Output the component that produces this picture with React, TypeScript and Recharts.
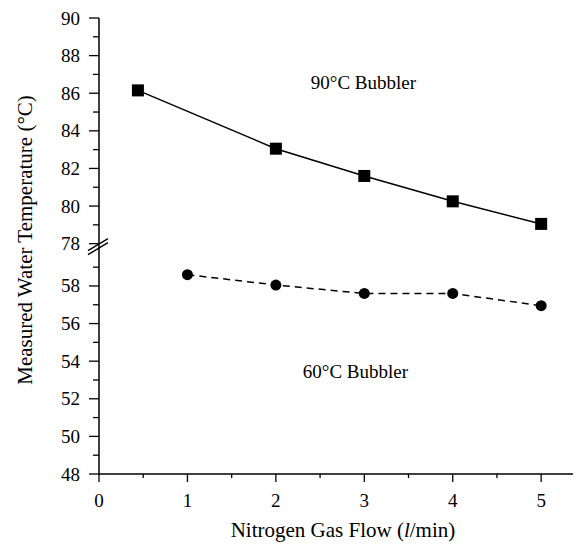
import { LineChart, Line, XAxis, YAxis, ReferenceDot, Label } from "recharts";

// measured values
const flow90 = [0.44, 2, 3, 4, 5];
const temp90 = [86.15, 83.05, 81.6, 80.25, 79.05];
const flow60 = [1, 2, 3, 4, 5];
const temp60 = [58.6, 58.05, 57.6, 57.6, 56.95];

// tick labels (lower + upper half of the broken axis)
const lowerTicks = [48, 49, 50, 51, 52, 53, 54, 55, 56, 57, 58, 59];
const upperTicks = [78, 79, 80, 81, 82, 83, 84, 85, 86, 87, 88, 89, 90];
const xTicks = [0, 0.5, 1, 1.5, 2, 2.5, 3, 3.5, 4, 4.5, 5];

// axis break: 58..78 collapsed to a small gap
const BREAK_FROM = 78;
const SHIFT = 17.75;
const toAxis = (v: number) => (v >= BREAK_FROM ? v - SHIFT : v);
const fromAxis = (t: number) => (t >= BREAK_FROM - SHIFT ? t + SHIFT : t);

const data90 = flow90.map((x, i) => ({ x, y: toAxis(temp90[i]) }));
const data60 = flow60.map((x, i) => ({ x, y: toAxis(temp60[i]) }));
const yTicks = [...lowerTicks, ...upperTicks].map(toAxis);

const FONT = "'Liberation Serif', 'Times New Roman', serif";

const YTick = (props: any) => {
  const { x, y, payload } = props;
  const real = Math.round(fromAxis(payload.value) * 100) / 100;
  const major = real % 2 === 0;
  const len = major ? 10 : 6;
  return (
    <g>
      <line x1={x - len} y1={y} x2={x} y2={y} stroke="#000" strokeWidth={1.3} />
      {major && (
        <text x={x - 19} y={y} textAnchor="end" dominantBaseline="central" fontSize={19} fontFamily={FONT} fill="#000">
          {real}
        </text>
      )}
      {real === BREAK_FROM && (
        <g stroke="#000" strokeWidth={1.4}>
          <line x1={x - 11} y1={y + 7} x2={x + 9} y2={y - 5} />
          <line x1={x - 11} y1={y + 11} x2={x + 9} y2={y - 1} />
        </g>
      )}
    </g>
  );
};

const XTick = (props: any) => {
  const { x, y, payload } = props;
  const major = Number.isInteger(payload.value);
  return (
    <g>
      <line x1={x} y1={y} x2={x} y2={y + (major ? 8 : 4)} stroke="#000" strokeWidth={1.3} />
      {major && (
        <text x={x} y={y + 33} textAnchor="middle" fontSize={19} fontFamily={FONT} fill="#000">
          {payload.value}
        </text>
      )}
    </g>
  );
};

const XTitle = (props: any) => {
  const { x, y, width, height } = props.viewBox;
  return (
    <text x={x + width / 2 + 7} y={y + height - 8} textAnchor="middle" fontSize={21} fontFamily={FONT} fill="#000">
      Nitrogen Gas Flow (<tspan fontStyle="italic">l</tspan>/min)
    </text>
  );
};

const YTitle = (props: any) => {
  const { y, height } = props.viewBox;
  const cy = y + height / 2 - 6;
  return (
    <text
      x={25}
      y={cy}
      transform={`rotate(-90, 25, ${cy})`}
      textAnchor="middle"
      dominantBaseline="central"
      fontSize={21}
      fontFamily={FONT}
      fill="#000"
    >
      Measured Water Temperature (°C)
    </text>
  );
};

const SquareDot = (props: any) => {
  const { cx, cy, index } = props;
  return <rect key={`sq-${index}`} x={cx - 6} y={cy - 6} width={12} height={12} fill="#000" />;
};

export default function App() {
  return (
    <div style={{ position: "absolute", left: 0, top: 0, background: "#fff" }}>
      <LineChart width={583} height={545} margin={{ top: 18, right: 10, left: 0, bottom: 0 }}>
        <XAxis
          type="number"
          dataKey="x"
          domain={[0, 5.36]}
          ticks={xTicks}
          interval={0}
          tickSize={0}
          tickMargin={0}
          tickLine={false}
          tick={<XTick />}
          axisLine={{ stroke: "#000", strokeWidth: 1.5 }}
          height={71}
          allowDataOverflow
        >
          <Label content={<XTitle />} />
        </XAxis>
        <YAxis
          type="number"
          dataKey="y"
          domain={[48, 90 - SHIFT]}
          ticks={yTicks}
          interval={0}
          tickSize={0}
          tickMargin={0}
          tickLine={false}
          tick={<YTick />}
          axisLine={{ stroke: "#000", strokeWidth: 1.5 }}
          width={99}
          allowDataOverflow
        >
          <Label content={<YTitle />} />
        </YAxis>
        <Line
          data={data90}
          dataKey="y"
          type="linear"
          stroke="#000"
          strokeWidth={1.5}
          dot={<SquareDot />}
          isAnimationActive={false}
        />
        <Line
          data={data60}
          dataKey="y"
          type="linear"
          stroke="#000"
          strokeWidth={1.5}
          strokeDasharray="7 5"
          dot={{ r: 5.5, fill: "#000", stroke: "#000", strokeWidth: 0 }}
          isAnimationActive={false}
        />
        <ReferenceDot x={2.99} y={toAxis(86.6)} r={0} stroke="none">
          <Label value="90°C Bubbler" position="center" fontSize={19} fontFamily={FONT} fill="#000" />
        </ReferenceDot>
        <ReferenceDot x={2.9} y={53.45} r={0} stroke="none">
          <Label value="60°C Bubbler" position="center" fontSize={19} fontFamily={FONT} fill="#000" />
        </ReferenceDot>
      </LineChart>
    </div>
  );
}
